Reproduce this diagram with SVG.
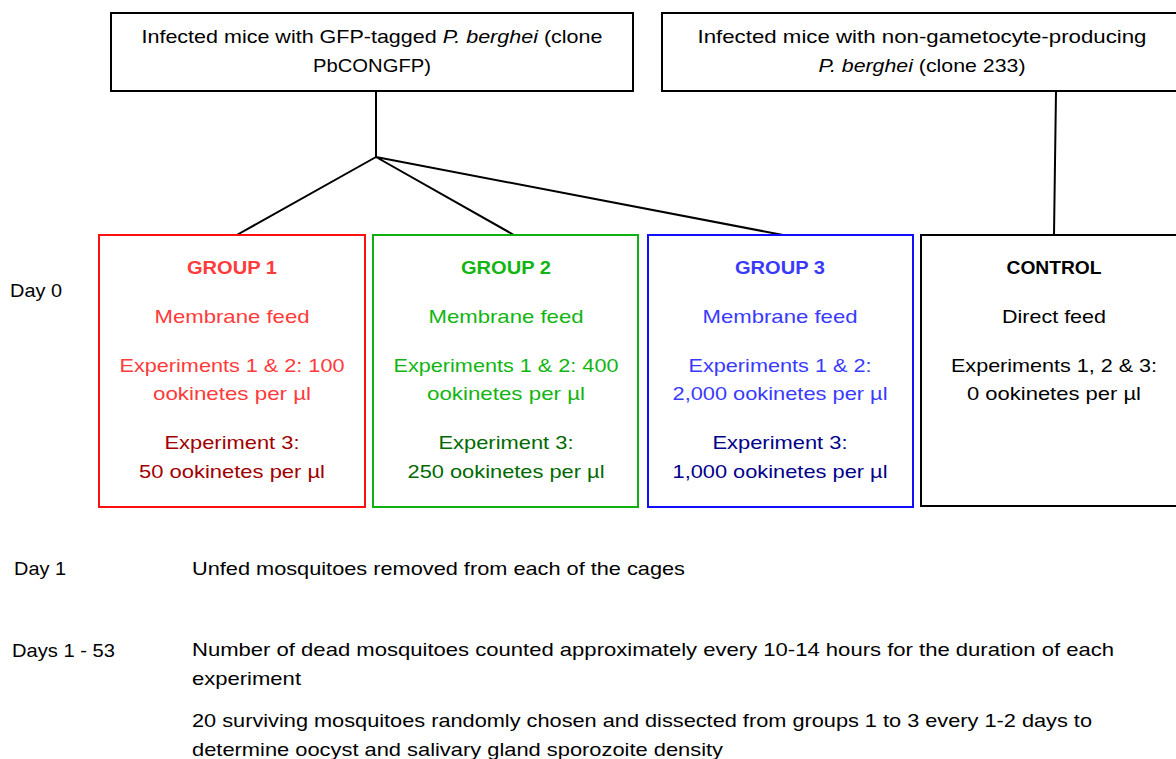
<svg xmlns="http://www.w3.org/2000/svg" width="1176" height="759" viewBox="0 0 1176 759">
<style>
text{font-family:"Liberation Sans",Arial,sans-serif;font-size:18.5px;fill:#000}
.c{text-anchor:middle}
.b{font-weight:bold}
.i{font-style:italic}
.box{fill:#fff;stroke-width:2}
.ln{stroke:#000;stroke-width:2;fill:none}
.r1{fill:#FF3B3B}.r2{fill:#A00000}
.g1{fill:#12B512}.g2{fill:#006A00}
.b1{fill:#3A3AFF}.b2{fill:#00008A}
</style>
<rect width="1176" height="759" fill="#fff"/>
<g id="connectors">
<path class="ln" d="M376 91V157M376 157L235 236M376 157L514 235M376 157L783 235M1056 91L1054 235"/>
</g>
<g id="src1">
<rect class="box" x="111" y="13" width="522" height="78" stroke="#000"/>
<text class="c" x="372" y="43" textLength="461" lengthAdjust="spacingAndGlyphs">Infected mice with GFP-tagged <tspan class="i">P. berghei</tspan> (clone</text>
<text class="c" x="372" y="72" textLength="118" lengthAdjust="spacingAndGlyphs">PbCONGFP)</text>
</g>
<g id="src2">
<rect class="box" x="662" y="13" width="530" height="78" stroke="#000"/>
<text class="c" x="922" y="43" textLength="449" lengthAdjust="spacingAndGlyphs">Infected mice with non-gametocyte-producing</text>
<text class="c" x="922" y="72" textLength="207" lengthAdjust="spacingAndGlyphs"><tspan class="i">P. berghei</tspan> (clone 233)</text>
</g>
<g id="group1">
<rect class="box" x="99" y="235" width="266" height="272" stroke="#FF1010"/>
<text class="c b r1" x="232" y="274" textLength="90" lengthAdjust="spacingAndGlyphs">GROUP 1</text>
<text class="c r1" x="232" y="323" textLength="155" lengthAdjust="spacingAndGlyphs">Membrane feed</text>
<text class="c r1" x="232" y="372" textLength="225" lengthAdjust="spacingAndGlyphs">Experiments 1 &amp; 2: 100</text>
<text class="c r1" x="232" y="400" textLength="158" lengthAdjust="spacingAndGlyphs">ookinetes per µl</text>
<text class="c r2" x="232" y="449" textLength="135" lengthAdjust="spacingAndGlyphs">Experiment 3:</text>
<text class="c r2" x="232" y="478" textLength="186" lengthAdjust="spacingAndGlyphs">50 ookinetes per µl</text>
</g>
<g id="group2">
<rect class="box" x="373" y="235" width="265" height="272" stroke="#10B010"/>
<text class="c b g1" x="506" y="274" textLength="90" lengthAdjust="spacingAndGlyphs">GROUP 2</text>
<text class="c g1" x="506" y="323" textLength="155" lengthAdjust="spacingAndGlyphs">Membrane feed</text>
<text class="c g1" x="506" y="372" textLength="225" lengthAdjust="spacingAndGlyphs">Experiments 1 &amp; 2: 400</text>
<text class="c g1" x="506" y="400" textLength="158" lengthAdjust="spacingAndGlyphs">ookinetes per µl</text>
<text class="c g2" x="506" y="449" textLength="135" lengthAdjust="spacingAndGlyphs">Experiment 3:</text>
<text class="c g2" x="506" y="478" textLength="197" lengthAdjust="spacingAndGlyphs">250 ookinetes per µl</text>
</g>
<g id="group3">
<rect class="box" x="648" y="235" width="265" height="272" stroke="#1010FF"/>
<text class="c b b1" x="780" y="274" textLength="90" lengthAdjust="spacingAndGlyphs">GROUP 3</text>
<text class="c b1" x="780" y="323" textLength="155" lengthAdjust="spacingAndGlyphs">Membrane feed</text>
<text class="c b1" x="780" y="372" textLength="183" lengthAdjust="spacingAndGlyphs">Experiments 1 &amp; 2:</text>
<text class="c b1" x="780" y="400" textLength="215" lengthAdjust="spacingAndGlyphs">2,000 ookinetes per µl</text>
<text class="c b2" x="780" y="449" textLength="135" lengthAdjust="spacingAndGlyphs">Experiment 3:</text>
<text class="c b2" x="780" y="478" textLength="215" lengthAdjust="spacingAndGlyphs">1,000 ookinetes per µl</text>
</g>
<g id="control">
<rect class="box" x="921" y="235" width="270" height="271" stroke="#000"/>
<text class="c b" x="1054" y="274" textLength="95" lengthAdjust="spacingAndGlyphs">CONTROL</text>
<text class="c" x="1054" y="323" textLength="104" lengthAdjust="spacingAndGlyphs">Direct feed</text>
<text class="c" x="1054" y="372" textLength="206" lengthAdjust="spacingAndGlyphs">Experiments 1, 2 &amp; 3:</text>
<text class="c" x="1054" y="400" textLength="174" lengthAdjust="spacingAndGlyphs">0 ookinetes per µl</text>
</g>
<g id="timeline">
<text x="10" y="297" textLength="52" lengthAdjust="spacingAndGlyphs">Day 0</text>
<text x="14" y="575" textLength="52" lengthAdjust="spacingAndGlyphs">Day 1</text>
<text x="192" y="575" textLength="493" lengthAdjust="spacingAndGlyphs">Unfed mosquitoes removed from each of the cages</text>
<text x="12" y="657" textLength="103" lengthAdjust="spacingAndGlyphs">Days 1 - 53</text>
<text x="192" y="656" textLength="922" lengthAdjust="spacingAndGlyphs">Number of dead mosquitoes counted approximately every 10-14 hours for the duration of each</text>
<text x="192" y="685" textLength="109" lengthAdjust="spacingAndGlyphs">experiment</text>
<text x="192" y="727" textLength="900" lengthAdjust="spacingAndGlyphs">20 surviving mosquitoes randomly chosen and dissected from groups 1 to 3 every 1-2 days to</text>
<text x="192" y="756" textLength="531" lengthAdjust="spacingAndGlyphs">determine oocyst and salivary gland sporozoite density</text>
</g>
</svg>
